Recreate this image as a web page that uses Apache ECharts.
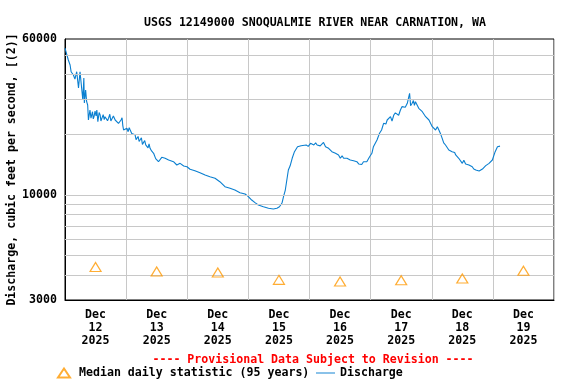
<!DOCTYPE html>
<html><head><meta charset="utf-8">
<script src="https://cdn.jsdelivr.net/npm/echarts@6/dist/echarts.min.js"></script>
<style>html,body{margin:0;padding:0;background:#fff}#c{width:576px;height:384px}</style>
</head><body><div id="c"></div>
<script>
// Discharge readings: [hours since 2025-12-12 00:00, cubic feet per second]
const discharge = [
[0,54000],[0.3,52900],[1.3,47150],[2.0,44520],[2.4,41220],[3.3,39690],[3.9,37910],[4.6,41220],[5.3,34190],[5.9,41220],
[6.6,40470],[7.0,29800],[7.4,38340],[7.6,28790],[8.1,33410],[8.5,29220],[8.9,28130],[9.2,23680],[9.8,26570],[10.2,24200],
[10.8,26050],[11.1,24000],[11.4,24600],[11.8,26200],[12.2,24800],[12.5,26570],[12.9,23220],[13.4,25800],[13.8,25080],[14.1,23400],
[14.4,23680],[15.0,25200],[15.4,23800],[15.7,24600],[16.3,24900],[16.7,23500],[17.1,24150],[17.6,25300],[18.0,23400],[18.4,23680],
[19.0,24800],[19.7,23680],[20.3,24200],[21.0,22800],[21.5,23000],[22.0,23680],[22.4,24300],[22.7,22200],[23.0,21110],[24.3,21530],
[24.8,20700],[25.2,21700],[25.6,21110],[26.2,20300],[26.9,19930],[27.5,20000],[27.9,18900],[28.2,19190],[28.7,19600],[29.1,18500],
[29.5,18820],[30.0,19300],[30.4,17900],[30.8,18120],[31.3,18700],[31.7,17800],[32.1,18120],[32.6,17200],[33.0,18000],[33.4,17120],
[34.0,16600],[34.8,16160],[35.3,16200],[35.6,15200],[36.1,14960],[36.7,14670],[38.0,15430],[39.3,15260],[40.7,14960],[42.6,14670],
[43.9,14130],[45.2,14400],[46.6,13960],[47.9,13850],[49.1,13450],[51.0,13230],[53.0,12930],[55.0,12590],[56.9,12350],[58.9,12130],
[60.8,11660],[62.8,11010],[64.8,10810],[66.7,10600],[68.7,10280],[70.7,10130],[72.0,9820],[73.3,9450],[74.6,9170],[75.9,8925],
[77.9,8750],[79.9,8600],[81.8,8525],[83.2,8600],[84.2,8750],[85.2,9130],[85.8,9820],[86.5,10600],[87.1,11890],[87.7,13340],
[88.4,14000],[89.2,15260],[90.1,16460],[91.3,17430],[92.7,17630],[94.7,17770],[95.5,17500],[96.4,18120],[97.7,17770],[98.4,18200],
[99.0,17770],[100.2,17600],[100.9,17980],[101.5,18300],[102.3,17430],[103.5,17120],[104.8,16460],[106.2,16160],[107.4,15850],[108.1,15260],
[108.8,15700],[109.4,15260],[110.7,15260],[111.3,15500],[112.0,14960],[112.6,14700],[113.3,14840],[114.0,15100],[114.6,14670],[115.3,14300],
[115.9,14400],[116.5,14200],[117.2,14670],[118.5,14670],[119.6,15540],[120.5,16160],[121.1,17430],[122.5,18820],[123.5,20330],[124.3,21110],
[125.1,22800],[126.0,22600],[126.5,23680],[127.2,24100],[127.8,24600],[128.4,23400],[129.1,25080],[129.7,25700],[130.4,25570],[131.0,25000],
[131.7,26570],[132.3,27600],[133.0,28130],[133.6,27400],[134.4,28690],[134.9,28400],[135.3,32180],[135.7,27900],[136.3,28690],[136.8,29600],
[137.2,28000],[137.6,29220],[138.3,28800],[138.9,27090],[140.3,26050],[141.0,25800],[141.6,24600],[142.9,23680],[143.5,23200],[144.2,21930],
[145.5,21110],[146.2,21900],[146.8,21110],[147.4,20300],[148.1,19190],[148.7,18200],[149.4,17770],[150.0,17400],[150.7,16780],[151.4,17100],
[152.0,16460],[153.0,16300],[153.4,15850],[154.6,15260],[155.3,15200],[156.0,14400],[156.6,14900],[157.3,14290],[158.6,14130],[159.2,14200],
[159.9,13850],[160.5,13500],[161.3,13340],[162.0,13500],[162.6,13190],[163.9,13490],[165.2,14020],[166.5,14400],[167.8,14960],[168.9,16460],
[169.8,17430],[170.8,17550]
];
const medianHours = [12,36,60,84,108,132,156,180];
const medianValues = [4380,4160,4110,3780,3710,3760,3840,4200];
const dayLabels = ['Dec\n12\n2025','Dec\n13\n2025','Dec\n14\n2025','Dec\n15\n2025','Dec\n16\n2025','Dec\n17\n2025','Dec\n18\n2025','Dec\n19\n2025'];
const yGridValues = [4000,5000,6000,7000,8000,9000,10000,20000,30000,40000,50000];
const yLabelValues = [3000,10000,60000];

const FONT = 'DejaVu Sans Mono';
const legendText = {fontFamily: FONT, fontWeight: 'bold', fontSize: 11.6, color: '#000'};
const chart = echarts.init(document.getElementById('c'));
chart.setOption({
  animation: false,
  backgroundColor: '#fff',
  title: [
    {text: 'USGS 12149000 SNOQUALMIE RIVER NEAR CARNATION, WA', left: 310, textAlign: 'center', top: 12,
     textStyle: {fontFamily: FONT, fontWeight: 'bold', fontSize: 11.6, color: '#000'}},
    {text: '---- Provisional Data Subject to Revision ----', left: 308, textAlign: 'center', top: 349,
     textStyle: {fontFamily: FONT, fontWeight: 'bold', fontSize: 11.6, color: '#ff0000'}}
  ],
  legend: [
    {left: 57, top: 367, itemGap: 10, itemWidth: 12, itemHeight: 9, padding: 0,
     textStyle: Object.assign({padding: [0, 0, 0, 4]}, legendText), data: ['Median daily statistic (95 years)']},
    {left: 316, top: 367, itemGap: 10, itemWidth: 19, itemHeight: 10, padding: 0,
     textStyle: legendText, data: [{name: 'Discharge', icon: 'path://M0,5L20,5L20,6L0,6Z'}]}
  ],
  grid: {left: 65, right: 22, top: 39, bottom: 84, outerBoundsMode: 'none', containLabel: false,
         show: true, borderColor: '#000', borderWidth: 1, backgroundColor: 'transparent'},
  xAxis: {
    type: 'value', min: 0, max: 192, interval: 24,
    axisLine: {lineStyle: {color: '#000'}},
    axisTick: {show: false},
    splitLine: {show: true, lineStyle: {color: '#c8c8c8', width: 1}},
    axisLabel: {
      customValues: medianHours,
      formatter: function (v) { return dayLabels[Math.round((v - 12) / 24)] || ''; },
      fontFamily: FONT, fontWeight: 'bold', fontSize: 11.6, color: '#000', lineHeight: 13, margin: 8
    }
  },
  yAxis: {
    type: 'log', min: 3000, max: 60000, logBase: 10,
    name: 'Discharge, cubic feet per second, [(2)]', nameLocation: 'middle', nameGap: 47, nameMoveOverlap: false,
    nameTextStyle: {fontFamily: FONT, fontWeight: 'bold', fontSize: 11.6, color: '#000'},
    axisLine: {show: true, lineStyle: {color: '#000'}},
    axisTick: {show: false},
    splitLine: {show: false},
    axisLabel: {customValues: yLabelValues, fontFamily: FONT, fontWeight: 'bold', fontSize: 11.6, color: '#000', margin: 8,
      formatter: function (v) { return String(Math.round(v)); }}
  },
  series: [
    {
      name: 'Median daily statistic (95 years)', type: 'scatter',
      symbol: 'triangle', symbolSize: [11, 9],
      itemStyle: {color: 'rgba(255,255,255,0)', borderColor: '#ff9900', borderWidth: 1.2},
      data: medianHours.map((h, i) => [h, medianValues[i]]),
      z: 5
    },
    {
      name: 'Discharge', type: 'line', symbol: 'none', showSymbol: false,
      lineStyle: {color: '#0a7fd0', width: 1.1}, itemStyle: {color: '#0a7fd0'},
      data: discharge,
      markLine: {
        silent: true, symbol: 'none', label: {show: false}, animation: false,
        lineStyle: {color: '#c8c8c8', type: 'solid', width: 1},
        data: yGridValues.map(v => ({yAxis: v}))
      },
      z: 4
    }
  ]
});
</script></body></html>
